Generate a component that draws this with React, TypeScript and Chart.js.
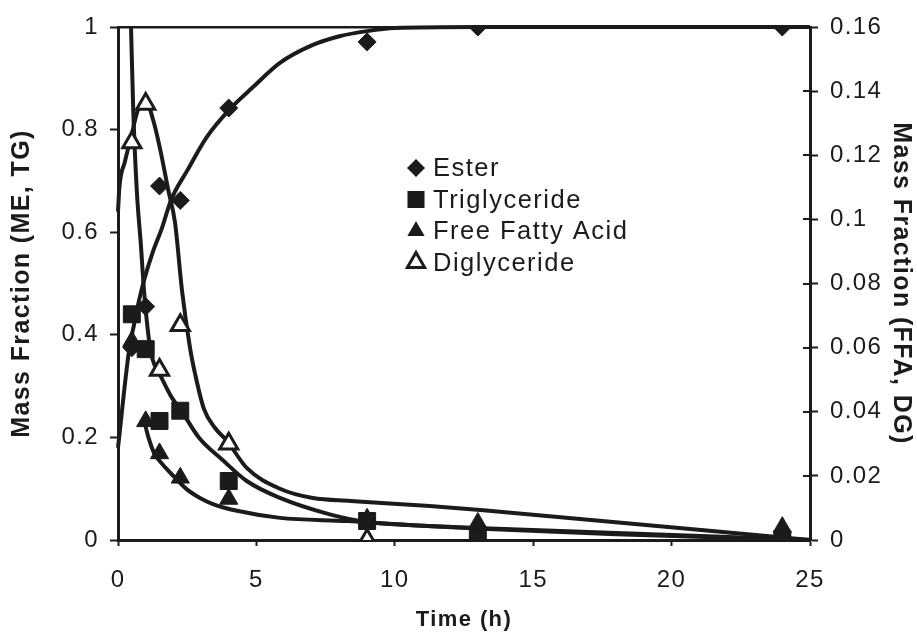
import React, { useEffect, useRef } from "react";
import { Chart, registerables } from "chart.js";

Chart.register(...registerables);

// ---- Axis ticks ----
const xTicks = [0, 5, 10, 15, 20, 25];
const xTickLabels = ["0", "5", "10", "15", "20", "25"];
const yLeftTicks = [0, 0.2, 0.4, 0.6, 0.8, 1];
const yLeftLabels = ["0", "0.2", "0.4", "0.6", "0.8", "1"];
const yRightTicks = [0, 0.02, 0.04, 0.06, 0.08, 0.1, 0.12, 0.14, 0.16];
const yRightLabels = ["0", "0.02", "0.04", "0.06", "0.08", "0.1", "0.12", "0.14", "0.16"];

// ---- Series names ----
const seriesNames = ["Ester", "Triglyceride", "Free Fatty Acid", "Diglyceride"];

// ---- Measured points ----
const obsTime = [0.5, 1, 1.5, 2.25, 4, 9, 13, 24];
const esterObs = [0.375, 0.455, 0.69, 0.662, 0.842, 0.971, 1.0, 1.0]; // left axis
const tgObs = [0.44, 0.372, 0.232, 0.252, 0.115, 0.037, 0.003, 0.002]; // left axis
const ffaObs = [0.062, 0.037, 0.027, 0.0194, 0.0128, 0.0066, 0.0053, 0.004]; // right axis
const dgTime = [0.5, 1, 1.5, 2.25, 4, 9];
const dgObs = [0.124, 0.136, 0.053, 0.067, 0.03, 0.0]; // right axis

// ---- Model curves ----
const esterCurveT = [0, 0.4, 0.58, 0.76, 0.94, 1.25, 1.6, 1.91, 2.5, 3.2, 4.04, 4.88, 5.85, 7.04, 8, 9, 10, 13, 25];
const esterCurveY = [0.18, 0.37, 0.42, 0.467, 0.506, 0.56, 0.61, 0.662, 0.72, 0.785, 0.84, 0.883, 0.93, 0.965, 0.982, 0.992, 0.998, 1, 1];

const tgCurveT = [0.47, 0.55, 0.68, 0.82, 0.94, 1.12, 1.25, 1.52, 1.95, 2.24, 2.92, 3.8, 4.65, 5.85, 7.65, 9, 11.3, 13.2, 18, 25];
const tgCurveY = [1.0, 0.84, 0.68, 0.58, 0.486, 0.39, 0.352, 0.322, 0.277, 0.256, 0.2, 0.155, 0.115, 0.082, 0.05, 0.035, 0.027, 0.022, 0.011, 0];

const ffaCurveT = [0.95, 1.1, 1.3, 1.6, 2.0, 2.5, 2.96, 3.43, 4.3, 5.85, 8.27, 10.65, 13.2, 25];
const ffaCurveY = [0.037, 0.032, 0.0272, 0.0237, 0.02, 0.0157, 0.0131, 0.0112, 0.0091, 0.0069, 0.0059, 0.0046, 0.0037, 0];

const dgCurveT = [0, 0.05, 0.25, 0.47, 0.7, 0.97, 1.27, 1.52, 1.82, 2.06, 2.31, 2.6, 2.78, 3.1, 3.5, 3.93, 4.66, 5.85, 7.04, 8.4, 11.26, 13.2, 25];
const dgCurveY = [0.1024, 0.11, 0.118, 0.1256, 0.1336, 0.1376, 0.131, 0.122, 0.109, 0.099, 0.078, 0.06, 0.052, 0.041, 0.035, 0.031, 0.0224, 0.016, 0.0131, 0.0122, 0.0106, 0.0093, 0];

const INK = "#1b1b1b";
const FONT = "'Liberation Sans', Arial, Helvetica, sans-serif";
const TRACKING = "1.4px";

type MarkerKind = "diamond" | "square" | "tri" | "triOpen";
const markerKinds: MarkerKind[] = ["diamond", "square", "tri", "triOpen"];

function drawMarker(c: CanvasRenderingContext2D, kind: MarkerKind, x: number, y: number) {
  c.save();
  c.fillStyle = INK;
  c.strokeStyle = INK;
  c.beginPath();
  if (kind === "diamond") {
    const r = 9;
    c.moveTo(x - r, y);
    c.lineTo(x, y - r);
    c.lineTo(x + r, y);
    c.lineTo(x, y + r);
    c.closePath();
    c.fill();
  } else if (kind === "square") {
    const h = 8.5;
    c.rect(x - h, y - h, 2 * h, 2 * h);
    c.fill();
  } else {
    const r = 10;
    const s = Math.sqrt(3) / 2;
    c.moveTo(x, y - r);
    c.lineTo(x + r * s, y + r / 2);
    c.lineTo(x - r * s, y + r / 2);
    c.closePath();
    if (kind === "tri") {
      c.fill();
    } else {
      c.fillStyle = "#ffffff";
      c.fill();
      c.lineWidth = 3;
      c.stroke();
    }
  }
  c.restore();
}

const tracking = {
  id: "tracking",
  beforeDraw(chart: any) {
    (chart.ctx as any).letterSpacing = TRACKING;
  },
};

const inlineLegend = {
  id: "inlineLegend",
  afterDraw(chart: any) {
    const c: CanvasRenderingContext2D = chart.ctx;
    const a = chart.chartArea;
    const mx = a.left + 298;
    const y0 = a.top + 141;
    const dy = 31.5;
    c.save();
    (c as any).letterSpacing = "1.5px";
    c.font = `25.5px ${FONT}`;
    c.fillStyle = INK;
    c.textBaseline = "middle";
    c.textAlign = "left";
    seriesNames.forEach((name, i) => {
      const y = y0 + dy * i;
      drawMarker(c, markerKinds[i], mx, y);
      c.fillText(name, mx + 17, y + 1);
    });
    c.restore();
  },
};

const innerRightTicks = {
  id: "innerRightTicks",
  afterDraw(chart: any) {
    const s = chart.scales.y2;
    const c: CanvasRenderingContext2D = chart.ctx;
    c.save();
    c.strokeStyle = INK;
    c.lineWidth = 2;
    s.ticks.forEach((t: any) => {
      const y = Math.round(s.getPixelForValue(t.value));
      c.beginPath();
      c.moveTo(s.left - 7, y);
      c.lineTo(s.left, y);
      c.stroke();
    });
    c.restore();
  },
};

const pts = (t: number[], y: number[]) => t.map((x, i) => ({ x, y: y[i] }));

export default function App() {
  const ref = useRef<HTMLCanvasElement>(null);

  useEffect(() => {
    if (!ref.current) return;
    const tickFont = { family: FONT, size: 24 };
    const titleFont = { family: FONT, size: 25, weight: "bold" as const };
    const xTitleFont = { family: FONT, size: 22, weight: "bold" as const };

    const curve = (data: any[], yAxisID: string) => ({
      type: "line" as const,
      data,
      yAxisID,
      showLine: true,
      borderColor: INK,
      borderWidth: 4,
      pointRadius: 0,
      fill: false,
      cubicInterpolationMode: "monotone" as const,
      clip: false as const,
    });

    const chart = new Chart(ref.current, {
      type: "line",
      data: {
        datasets: [
          {
            label: seriesNames[0],
            data: pts(obsTime, esterObs),
            yAxisID: "y",
            showLine: false,
            pointStyle: "rectRot",
            pointRadius: 9,
            backgroundColor: INK,
            borderColor: INK,
            borderWidth: 1,
          },
          {
            label: seriesNames[1],
            data: pts(obsTime, tgObs),
            yAxisID: "y",
            showLine: false,
            pointStyle: "rect",
            pointRadius: 12,
            backgroundColor: INK,
            borderColor: INK,
            borderWidth: 1,
          },
          {
            label: seriesNames[2],
            data: pts(obsTime, ffaObs),
            yAxisID: "y2",
            showLine: false,
            pointStyle: "triangle",
            pointRadius: 10.5,
            backgroundColor: INK,
            borderColor: INK,
            borderWidth: 1,
          },
          {
            label: seriesNames[3],
            data: pts(dgTime, dgObs),
            yAxisID: "y2",
            showLine: false,
            pointStyle: "triangle",
            pointRadius: 10.5,
            backgroundColor: "#ffffff",
            borderColor: INK,
            borderWidth: 3,
          },
          curve(pts(esterCurveT, esterCurveY), "y"),
          curve(pts(tgCurveT, tgCurveY), "y"),
          curve(pts(ffaCurveT, ffaCurveY), "y2"),
          curve(pts(dgCurveT, dgCurveY), "y2"),
        ] as any,
      },
      options: {
        animation: false,
        responsive: true,
        maintainAspectRatio: false,
        events: [],
        layout: { padding: 0 },
        plugins: {
          legend: { display: false },
          tooltip: { enabled: false },
        },
        scales: {
          x: {
            type: "linear",
            position: "bottom",
            min: 0,
            max: 25,
            afterBuildTicks: (s: any) => {
              s.ticks = xTicks.map((v) => ({ value: v }));
            },
            afterFit: (s: any) => {
              s.height = 101;
            },
            ticks: {
              callback: (_v: any, i: number) => xTickLabels[i],
              font: tickFont,
              color: INK,
              padding: 20,
              maxRotation: 0,
              autoSkip: false,
            },
            grid: { drawOnChartArea: false, drawTicks: true, tickLength: 6, tickWidth: 2, color: INK },
            border: { display: true, color: INK, width: 3 },
            title: { display: true, text: "Time (h)", font: xTitleFont, color: INK, padding: { top: 0, bottom: 8 } },
          },
          x2: {
            type: "linear",
            position: "top",
            min: 0,
            max: 25,
            afterFit: (s: any) => {
              s.height = 27;
            },
            ticks: { display: false },
            grid: { display: false, drawTicks: false },
            border: { display: true, color: INK, width: 2.5 },
          },
          y: {
            type: "linear",
            position: "left",
            min: 0,
            max: 1,
            afterBuildTicks: (s: any) => {
              s.ticks = yLeftTicks.map((v) => ({ value: v }));
            },
            afterFit: (s: any) => {
              s.width = 118;
            },
            ticks: {
              callback: (_v: any, i: number) => yLeftLabels[i],
              font: tickFont,
              color: INK,
              padding: 11,
            },
            grid: { drawOnChartArea: false, drawTicks: true, tickLength: 8, tickWidth: 2, color: INK },
            border: { display: true, color: INK, width: 3 },
            title: {
              display: true,
              text: "Mass Fraction (ME, TG)",
              font: titleFont,
              color: INK,
              padding: { top: 7, bottom: 0 },
            },
          },
          y2: {
            type: "linear",
            position: "right",
            min: 0,
            max: 0.16,
            afterBuildTicks: (s: any) => {
              s.ticks = yRightTicks.map((v) => ({ value: v }));
            },
            afterFit: (s: any) => {
              s.width = 107;
            },
            ticks: {
              callback: (_v: any, i: number) => yRightLabels[i],
              font: tickFont,
              color: INK,
              padding: 12,
            },
            grid: { drawOnChartArea: false, drawTicks: true, tickLength: 8, tickWidth: 2, color: INK },
            border: { display: true, color: INK, width: 3 },
            title: {
              display: true,
              text: "Mass Fraction (FFA, DG)",
              font: titleFont,
              color: INK,
              padding: { top: 1, bottom: 0 },
            },
          },
        },
      } as any,
      plugins: [tracking, inlineLegend, innerRightTicks],
    });

    return () => chart.destroy();
  }, []);

  return (
    <div
      style={{
        position: "fixed",
        left: 0,
        top: 0,
        width: 917,
        height: 641,
        background: "#ffffff",
      }}
    >
      <canvas ref={ref} />
    </div>
  );
}
